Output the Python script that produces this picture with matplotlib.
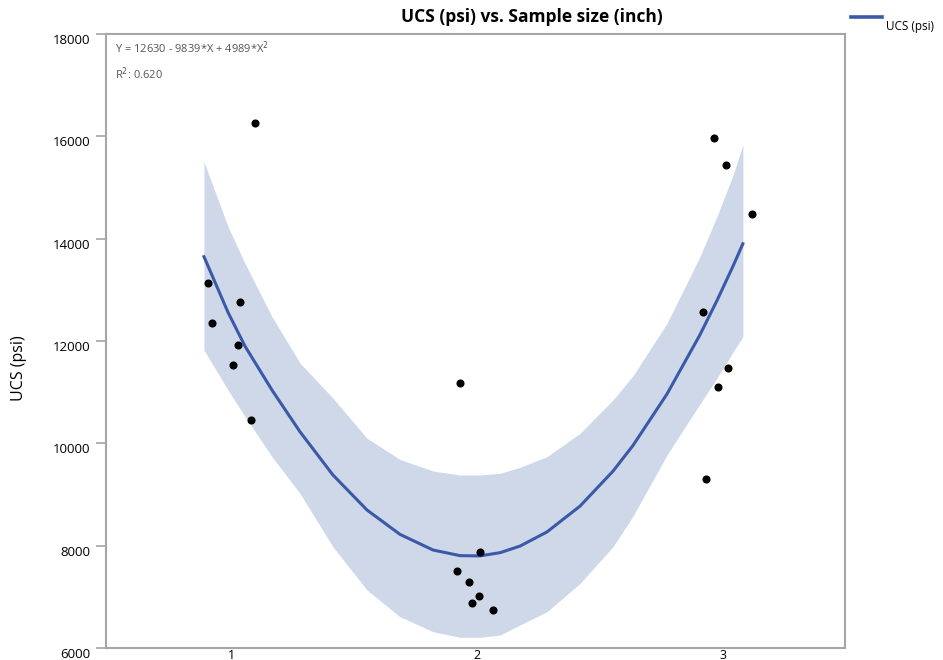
import numpy as np
import matplotlib
matplotlib.use('Agg')
import matplotlib.pyplot as plt
from matplotlib.lines import Line2D

plt.rcParams['font.family'] = ['Open Sans', 'DejaVu Sans']

# scatter points: sample size (inch, jittered) vs UCS (psi)
size_x = [0.902, 0.919, 1.033, 1.024, 1.004, 1.077, 1.094,
          1.927, 2.011, 1.916, 1.964, 2.005, 1.978, 2.062,
          2.965, 3.011, 3.119, 2.919, 3.022, 2.980, 2.930]
ucs_y = [13134, 12352, 12762, 11922, 11531, 10456, 16261,
         11185, 7882, 7511, 7290, 7010, 6873, 6749,
         15967, 15446, 14482, 12573, 11466, 11107, 9303]

# fitted curve and confidence band
fit_x = [0.886, 0.984, 1.053, 1.163, 1.277, 1.411, 1.550, 1.684, 1.819, 1.929, 2.010,
         2.092, 2.173, 2.283, 2.418, 2.552, 2.633, 2.772, 2.906, 2.976, 3.041, 3.081]
fit_y = [13648, 12560, 11900, 11042, 10227, 9383, 8697, 8222, 7915, 7805, 7800,
         7863, 7991, 8268, 8774, 9456, 9955, 10964, 12119, 12795, 13464, 13900]
band_hi = [15504, 14234, 13519, 12475, 11570, 10886, 10100, 9686, 9459, 9381, 9381,
           9414, 9531, 9739, 10196, 10847, 11316, 12346, 13648, 14437, 15244, 15831]
band_lo = [11824, 11042, 10526, 9739, 9023, 7980, 7134, 6612, 6319, 6209, 6209,
           6254, 6450, 6709, 7264, 7980, 8574, 9772, 10769, 11277, 11785, 12084]

yticks = [6000, 8000, 10000, 12000, 14000, 16000, 18000]
xticks = [1, 2, 3]

line_col = '#3a5aa8'
band_col = '#ced8e9'
axis_col = '#a6a6a6'

fig = plt.figure(figsize=(9.43, 6.6), dpi=100)
ax = fig.add_axes([106/943, 12/660, 739/943, 614/660])

ax.fill_between(fit_x, band_lo, band_hi, color=band_col, lw=0, zorder=1)
ax.plot(fit_x, fit_y, color=line_col, lw=2.2, zorder=2)
ax.scatter(size_x, ucs_y, s=34, color='black', zorder=3, linewidths=0)

ax.set_xlim(0.487, 3.497)
ax.set_ylim(6000, 18000)
ax.set_xticks(xticks)
ax.set_yticks(yticks)
ax.set_xticklabels([str(t) for t in xticks], fontsize=9)
ax.set_yticklabels([str(t) for t in yticks], fontsize=9.5)
for lab in ax.get_yticklabels():
    lab.set_va('top')
ax.tick_params(axis='x', length=0, pad=0.5)
ax.tick_params(axis='y', length=7, width=1.2, color=axis_col, pad=4)

for sp in ax.spines.values():
    sp.set_color(axis_col)
    sp.set_linewidth(1.5)

fig.text(532/943, 1 - 17/660, 'UCS (psi) vs. Sample size (inch)', fontsize=12.5,
         fontweight='bold', ha='center', va='center')
ax.set_ylabel('UCS (psi)', fontsize=11.5)
ax.yaxis.set_label_coords(-0.107, 0.456)

ax.text(0.012, 0.978, 'Y = 12630 - 9839*X + 4989*X$^2$', transform=ax.transAxes,
        fontsize=8, color='#555555', va='center', ha='left')
ax.text(0.012, 0.935, 'R$^2$: 0.620', transform=ax.transAxes,
        fontsize=8, color='#555555', va='center', ha='left')

# legend entry sits outside the plot, top right
fig.add_artist(Line2D([851/943, 882/943], [1 - 16.5/660, 1 - 16.5/660],
                      color=line_col, lw=2.6, transform=fig.transFigure))
fig.text(886/943, 1 - 26.5/660, 'UCS (psi)', fontsize=8.5, va='center', ha='left')

fig.savefig('out.png', dpi=100)
